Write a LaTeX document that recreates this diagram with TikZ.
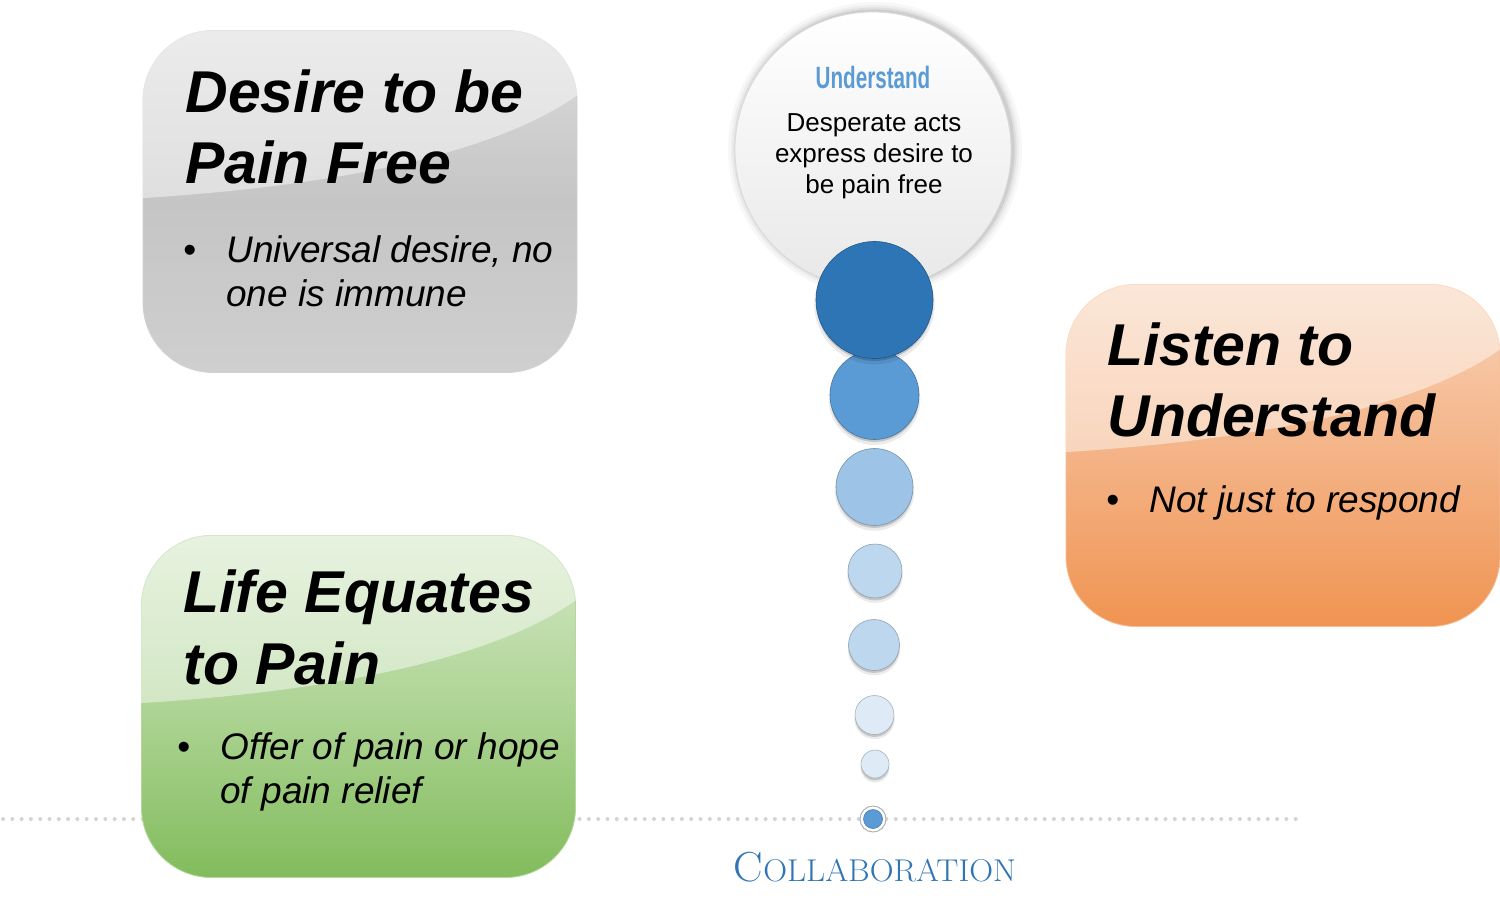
\documentclass[tikz,border=0pt]{standalone}
\usepackage{fontspec}
\setmainfont{Liberation Sans}
\newfontfamily\lmserif{Latin Modern Roman}
\usetikzlibrary{calc,shadows}
\definecolor{blueA}{HTML}{2E75B6}
\definecolor{blueB}{HTML}{5B9BD5}
\definecolor{blueC}{HTML}{9DC3E6}
\definecolor{blueD}{HTML}{BDD7EE}
\definecolor{blueE}{HTML}{DEEBF7}
\definecolor{greyT}{HTML}{DCDCDC}
\definecolor{greyM}{HTML}{C5C5C5}
\definecolor{greyB}{HTML}{CFCFCF}
\definecolor{orT}{HTML}{F8D3B8}
\definecolor{orM}{HTML}{F4B386}
\definecolor{orB}{HTML}{F09452}
\definecolor{grT}{HTML}{D4E8C6}
\definecolor{grM}{HTML}{AED495}
\definecolor{grB}{HTML}{82BC5C}
\definecolor{dotgrey}{HTML}{D4D4D4}
\begin{document}
\begin{tikzpicture}[x=0.5pt,y=-0.5pt,
  panel/.style={rectangle, rounded corners=35pt, minimum width=217pt, minimum height=171pt, inner sep=0pt},
  ttl/.style={anchor=base west, inner sep=0pt, font=\fontsize{29.5}{35}\selectfont\bfseries\itshape},
  blt/.style={anchor=base west, inner sep=0pt, font=\fontsize{18.5}{22}\selectfont\itshape},
  bdot/.style={anchor=base west, inner sep=0pt, font=\fontsize{18.5}{22}\selectfont},
  ctxt/.style={anchor=base, inner sep=0pt, font=\fontsize{13}{15}\selectfont},
  bub/.style={circle, inner sep=0pt, fill=#1, draw=#1!75!black, line width=0.3pt,
    general shadow={shadow yshift=-2pt, shadow scale=1.03, fill=black, opacity=0.08},
    general shadow={shadow yshift=-1.2pt, fill=black, opacity=0.16}},
  dotline/.style={line width=2pt, line cap=round, dash pattern=on 0pt off 4.65pt, color=dotgrey},
  gloss/.style={white, opacity=0.45}
]
\useasboundingbox (0,0) rectangle (1500,911);

% dotted baseline
\coordinate (ll) at (3,819);
\coordinate (lr) at (1302,819);
\draw[dotline] (ll) -- (lr);

% panels
\node[panel, top color=greyT, bottom color=greyB, middle color=greyM, draw=black!18, line width=0.4pt] (gp) at (360,201.5) {};
\node[panel, top color=orT, bottom color=orB, middle color=orM, draw=orB!60, line width=0.4pt] (op) at (1283,455.5) {};
\node[panel, top color=grT, bottom color=grB, middle color=grM, draw=grB!60, line width=0.4pt] (np) at (358.5,706.5) {};

\foreach \p in {gp,op,np}{
  \begin{scope}
    \clip[rounded corners=35pt] (\p.north west) rectangle (\p.south east);
    \fill[gloss] (\p.north west) -- ($(\p.north west)+(0,168)$)
      .. controls +(207,-13) and +(-77,55) .. ($(\p.north east)+(0,65)$)
      -- (\p.north east) -- cycle;
  \end{scope}
}

% big circle
\foreach \r/\o in {73.5/0.03,72/0.04,70.8/0.06,69.8/0.08}{
  \fill[black, opacity=\o] (875,149) circle (\r pt);
}
\node[circle, minimum size=138pt, inner sep=0pt, top color=white, bottom color=black!9, draw=black!14, line width=0.4pt] (big) at (873,150) {};

% bubbles (bottom up)
\node[circle, minimum size=13pt, inner sep=0pt, fill=white, draw=black!30, line width=0.5pt] (b8) at (873,819) {};
\node[circle, minimum size=9.5pt, inner sep=0pt, fill=blueB, draw=blueB!80!black, line width=0.3pt] (b8i) at (873,819) {};
\node[bub=blueE, minimum size=14pt] (b7) at (875,764) {};
\node[bub=blueE, minimum size=19.5pt] (b6) at (874.5,715) {};
\node[bub=blueD, minimum size=25.5pt] (b5) at (874,645) {};
\node[bub=blueD, minimum size=27pt] (b4) at (875,571) {};
\node[bub=blueC, minimum size=38.5pt] (b3) at (874.5,487) {};
\node[bub=blueB, minimum size=44.5pt] (b2) at (874.5,395) {};
\node[bub=blueA, minimum size=58.5pt] (b1) at (874.5,300) {};

% circle texts
\node[anchor=base, inner sep=0pt, text=blueB] (und) at (873,88)
  {\scalebox{0.67}[1]{\fontsize{15.4}{18}\selectfont\bfseries Understand}};
\node[ctxt] (c1) at (874,131) {Desperate acts};
\node[ctxt] (c2) at (874,162) {express desire to};
\node[ctxt] (c3) at (874,193) {be pain free};

% grey panel text
\node[ttl] (g1) at (185,112) {Desire to be};
\node[ttl] (g2) at (185,183) {Pain Free};
\node[bdot] (gb) at (183,262) {•};
\node[blt] (g3) at (226,262) {Universal desire, no};
\node[blt] (g4) at (226,306) {one is immune};

% orange panel text
\node[ttl] (o1) at (1107,365) {Listen to};
\node[ttl] (o2) at (1107,436) {Understand};
\node[bdot] (ob) at (1106,512) {•};
\node[blt] (o3) at (1149,512) {Not just to respond};

% green panel text
\node[ttl] (n1) at (183,612) {Life Equates};
\node[ttl] (n2) at (183,684) {to Pain};
\node[bdot] (nb) at (177,759) {•};
\node[blt] (n3) at (220,759) {Offer of pain or hope};
\node[blt] (n4) at (220,803) {of pain relief};

% label
\node[anchor=base, inner sep=0pt, text=blueA] (collab) at (875,881)
  {\scalebox{1.05}[1]{\lmserif{\fontsize{21}{24}\selectfont C}{\fontsize{15.75}{18}\selectfont OLLABORATION}}};
\end{tikzpicture}
\end{document}
